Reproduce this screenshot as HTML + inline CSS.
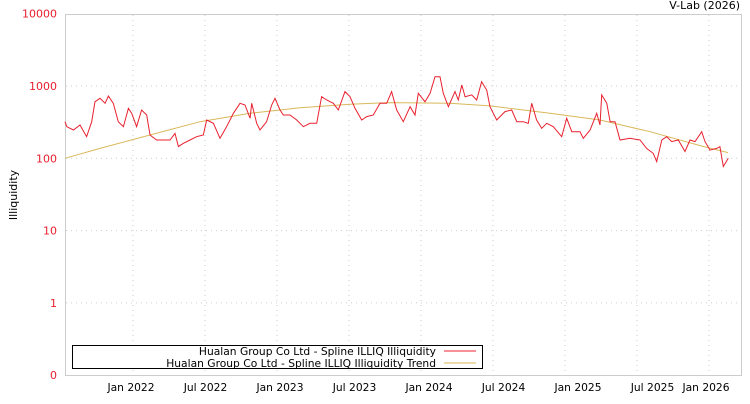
<!DOCTYPE html>
<html><head><meta charset="utf-8"><style>
body{margin:0;background:#fff;width:750px;height:400px;overflow:hidden;font-family:"DejaVu Sans","Liberation Sans",sans-serif}
</style></head><body>
<svg id="chart" width="750" height="400" xmlns="http://www.w3.org/2000/svg" font-family="DejaVu Sans, Liberation Sans, sans-serif">
<text x="740" y="9" font-size="11" text-anchor="end" fill="#000">V-Lab (2026)</text>
<text transform="translate(17,195) rotate(-90)" font-size="11" text-anchor="middle" fill="#000">Illiquidity</text>
<g id="grid"></g>
<rect x="65.5" y="14.5" width="676" height="361" fill="none" stroke="#ccc"/>
<g id="yticks"></g><g id="xticks"></g>
<g id="series"></g>
<g>
<rect x="72.5" y="345.5" width="410" height="23" fill="#fff" stroke="#000"/>
<text x="436" y="355" font-size="10.7" text-anchor="end">Hualan Group Co Ltd - Spline ILLIQ Illiquidity</text>
<line x1="444" y1="351" x2="476" y2="351" stroke="#e8202e"/>
<text x="436" y="367" font-size="10.7" text-anchor="end">Hualan Group Co Ltd - Spline ILLIQ Illiquidity Trend</text>
<line x1="444" y1="363" x2="476" y2="363" stroke="#d9b85a"/>
</g>
</svg>
<script>
const times=[2021.528,2021.540,2021.586,2021.632,2021.678,2021.713,2021.736,2021.771,2021.806,2021.829,2021.863,2021.898,2021.933,2021.968,2021.991,2022.025,2022.060,2022.095,2022.118,2022.164,2022.211,2022.257,2022.292,2022.315,2022.350,2022.396,2022.442,2022.488,2022.512,2022.558,2022.604,2022.650,2022.697,2022.743,2022.778,2022.813,2022.824,2022.859,2022.882,2022.928,2022.963,2022.986,2023.021,2023.044,2023.090,2023.137,2023.183,2023.229,2023.276,2023.310,2023.345,2023.391,2023.426,2023.472,2023.507,2023.542,2023.588,2023.623,2023.669,2023.715,2023.762,2023.796,2023.831,2023.877,2023.924,2023.958,2023.981,2024.028,2024.063,2024.097,2024.132,2024.155,2024.190,2024.236,2024.259,2024.283,2024.306,2024.352,2024.387,2024.421,2024.456,2024.479,2024.526,2024.583,2024.630,2024.665,2024.710,2024.745,2024.769,2024.803,2024.838,2024.873,2024.919,2024.977,2025.012,2025.047,2025.104,2025.127,2025.174,2025.220,2025.243,2025.255,2025.290,2025.313,2025.347,2025.382,2025.451,2025.521,2025.567,2025.613,2025.637,2025.672,2025.706,2025.741,2025.787,2025.833,2025.868,2025.903,2025.949,2025.972,2026.007,2026.053,2026.076,2026.099,2026.134];
const illiq=[321,274,246,289,199,321,607,675,576,728,576,321,274,491,419,274,466,397,210,179,179,179,221,145,161,179,199,210,339,305,189,274,419,576,546,357,576,305,246,321,546,675,466,397,397,339,274,305,305,712,640,576,466,836,712,491,339,377,397,576,576,836,466,321,518,397,792,607,792,1346,1346,792,518,836,640,1032,712,752,640,1148,881,518,339,442,466,321,321,305,576,339,260,305,274,199,357,233,233,189,246,419,289,752,576,321,321,179,189,179,137,117,90,179,199,170,179,124,179,170,233,170,130,137,145,77,100];
const trendTimes=[2021.528,2021.771,2022.118,2022.465,2022.813,2023.160,2023.507,2023.785,2024.201,2024.479,2024.896,2025.243,2025.590,2025.938,2026.132];
const trendVals=[100,137,210,321,419,500,560,590,576,530,419,339,233,150,120];
const yTickVals=[10000,1000,100,10,1];
const yTickLabels=["10000","1000","100","10","1"];
const xTickTimes=[2022,2022.5,2023,2023.5,2024,2024.5,2025,2025.5,2026];
const xTickLabels=["Jan 2022","Jul 2022","Jan 2023","Jul 2023","Jan 2024","Jul 2024","Jan 2025","Jul 2025","Jan 2026"];
const NS="http://www.w3.org/2000/svg";
function X(t){return 133+(t-2022)*144;}
function Y(v){return 86+(3-Math.log10(v))*72.3;}
function mk(tag,attrs,parent){const e=document.createElementNS(NS,tag);for(const k in attrs)e.setAttribute(k,attrs[k]);parent.appendChild(e);return e;}
const grid=document.getElementById('grid'),yt=document.getElementById('yticks'),xt=document.getElementById('xticks'),ser=document.getElementById('series');
yTickVals.forEach((v,i)=>{const y=Y(v);
 if(i>0){const g=mk('line',{x1:66,x2:741,y1:y,y2:y,stroke:'#ccc','stroke-dasharray':'1,4'},grid);
 
 }
 const t=mk('text',{x:57,y:y+4,'font-size':11,'text-anchor':'end',fill:'#e8202e'},yt);t.textContent=yTickLabels[i];
 
 });
const z=mk('text',{x:57,y:379,'font-size':11,'text-anchor':'end',fill:'#e8202e'},yt);z.textContent="0";


xTickTimes.forEach((tm,i)=>{const x=X(tm);
 const g=mk('line',{x1:x,x2:x,y1:15,y2:375,stroke:'#ccc','stroke-dasharray':'1,4'},grid);
 
 
 const lx=Math.min(x+2.5*i-2,706);
 const t=mk('text',{x:lx,y:391,'font-size':10.7,'text-anchor':'middle',fill:'#000'},xt);t.textContent=xTickLabels[i];
 
 });
const tp=mk('path',{d:trendTimes.map((t,i)=>(i?'L':'M')+X(t).toFixed(1)+','+Y(trendVals[i]).toFixed(1)).join(''),fill:'none',stroke:'#d9b85a','stroke-width':1},ser);


const ip=mk('path',{d:times.map((t,i)=>(i?'L':'M')+X(t).toFixed(1)+','+Y(illiq[i]).toFixed(1)).join(''),fill:'none',stroke:'#e8202e','stroke-width':1},ser);


</script>
</body></html>
